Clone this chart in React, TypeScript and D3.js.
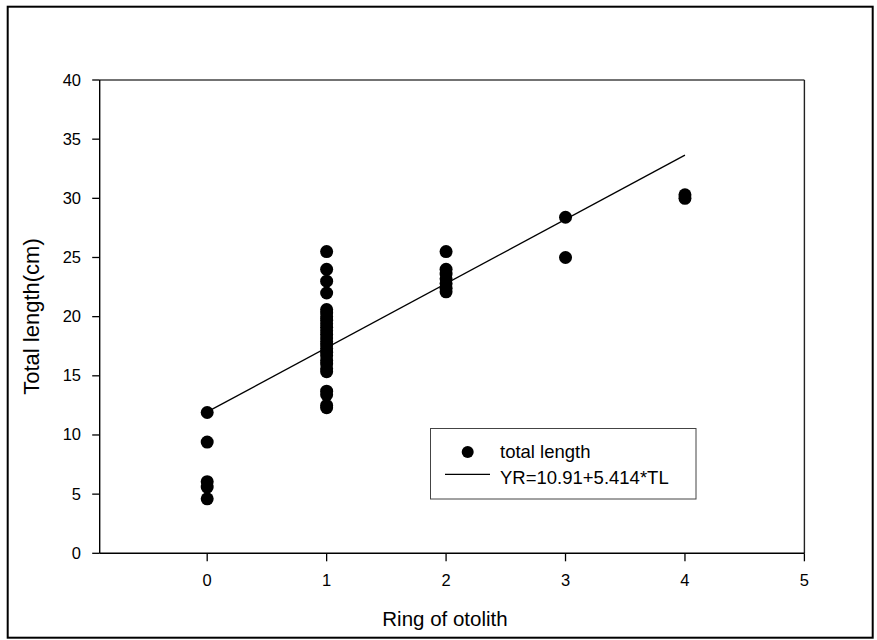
import React from "react";
import * as d3 from "d3";

const rings = [0, 1, 2, 3, 4];
const ring0 = [11.9, 9.4, 6.05, 5.6, 4.6];
const ring1 = [25.5, 24.0, 23.0, 22.0, 20.6, 20.3, 20.0, 19.7, 19.4, 19.1, 18.8, 18.5, 18.2, 17.9, 17.6, 17.3, 17.0, 16.7, 16.3, 16.0, 15.6, 15.35, 13.7, 13.4, 12.5, 12.3];
const ring2 = [25.5, 24.0, 23.6, 23.2, 22.8, 22.4, 22.1];
const ring3 = [28.4, 25.0];
const ring4 = [30.3, 30.0];
const fitX = [0, 4];
const fitY = [11.95, 33.65];
const xTicks = [0, 1, 2, 3, 4, 5];
const yTicks = [0, 5, 10, 15, 20, 25, 30, 35, 40];
const legendLabels = ["total length", "YR=10.91+5.414*TL"];
const xTitle = "Ring of otolith";
const yTitle = "Total length(cm)";

export default function App() {
  const L = 99.7, R = 804.4, T = 80, B = 553.3;
  const x = d3.scaleLinear().domain([-0.9, 5]).range([L, R]);
  const y = d3.scaleLinear().domain([0, 40]).range([B, T]);
  const groups = [ring0, ring1, ring2, ring3, ring4];
  const points: { r: number; v: number }[] = [];
  groups.forEach((g, i) => g.forEach((v) => points.push({ r: rings[i], v })));
  const line = d3.line<number>().x((d) => x(d)).y((_, i) => y(fitY[i]));
  const font = "Arial, 'Liberation Sans', sans-serif";
  return (
    <svg width={877} height={640} style={{ position: "absolute", left: 0, top: 0, background: "#fff" }} fontFamily={font}>
      <rect x={7.7} y={6.7} width={865} height={631} fill="none" stroke="#000" strokeWidth={2} />
      {/* frame top & right */}
      <line x1={L} x2={R} y1={T} y2={T} stroke="#444" strokeWidth={1.4} />
      <line x1={R} x2={R} y1={T} y2={B} stroke="#222" strokeWidth={1.4} />
      {/* axes */}
      <line x1={L} x2={L} y1={T} y2={B} stroke="#000" strokeWidth={1.4} />
      <line x1={L} x2={R} y1={B} y2={B} stroke="#000" strokeWidth={1.4} />
      {yTicks.map((t) => (
        <g key={"y" + t}>
          <line x1={L - 7.5} x2={L} y1={y(t)} y2={y(t)} stroke="#000" strokeWidth={1.3} />
          <text x={81} y={y(t) + 5.5} textAnchor="end" fontSize={16.5}>{t}</text>
        </g>
      ))}
      {xTicks.map((t) => (
        <g key={"x" + t}>
          <line x1={x(t)} x2={x(t)} y1={B} y2={B + 8} stroke="#000" strokeWidth={1.3} />
          <text x={x(t)} y={585.5} textAnchor="middle" fontSize={16.5}>{t}</text>
        </g>
      ))}
      <text x={445} y={626} textAnchor="middle" fontSize={20.5}>{xTitle}</text>
      <text transform={`translate(38.5,316.5) rotate(-90)`} textAnchor="middle" fontSize={22}>{yTitle}</text>
      <path d={line(fitX) || ""} fill="none" stroke="#000" strokeWidth={1.3} />
      {points.map((p, i) => (
        <circle key={i} cx={x(p.r)} cy={y(p.v)} r={6.5} fill="#000" />
      ))}
      <g>
        <rect x={430.5} y={428.5} width={265.5} height={70.5} fill="#fff" stroke="#444" strokeWidth={1} />
        <circle cx={467.7} cy={452} r={6} fill="#000" />
        <line x1={445} x2={490} y1={474.3} y2={474.3} stroke="#000" strokeWidth={1.2} />
        <text x={500} y={457.5} fontSize={18.5}>{legendLabels[0]}</text>
        <text x={500} y={483.5} fontSize={18.5}>{legendLabels[1]}</text>
      </g>
    </svg>
  );
}
